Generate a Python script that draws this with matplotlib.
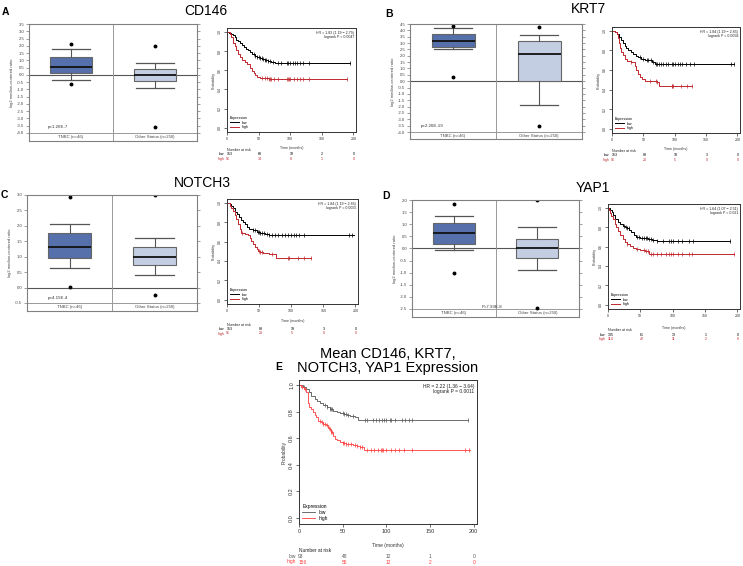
import numpy as np
import matplotlib
matplotlib.use("Agg")
import matplotlib.pyplot as plt
from matplotlib.lines import Line2D
from matplotlib.transforms import blended_transform_factory

plt.rcParams['font.family'] = ['Liberation Sans', 'DejaVu Sans']

W, H = 743, 566

# ---------- box plot data ----------
groups = ["TNBC (n=46)", "Other Status (n=250)"]

# [whisker low, q1, median, q3, whisker high]
cd146_tnbc = [-0.35, 0.15, 0.55, 1.25, 1.75]
cd146_other = [-0.88, -0.45, 0.0, 0.4, 0.8]
cd146_tnbc_out = [2.15, -0.65]
cd146_other_out = [2.0, -3.6]

krt7_tnbc = [2.55, 2.7, 3.15, 3.75, 4.15]
krt7_other = [-1.9, 0.0, 2.1, 3.15, 3.65]
krt7_tnbc_out = [4.35, 0.35]
krt7_other_out = [4.3, -3.5]

notch3_tnbc = [0.63, 0.95, 1.33, 1.77, 2.05]
notch3_other = [0.4, 0.73, 1.0, 1.32, 1.62]
notch3_tnbc_out = [2.93, 0.02]
notch3_other_out = [3.0, -0.23]

yap1_tnbc = [-0.08, 0.2, 0.62, 1.05, 1.33]
yap1_other = [-0.87, -0.4, 0.02, 0.38, 0.87]
yap1_tnbc_out = [1.85, -1.03]
yap1_other_out = [2.0, -2.45]

# ---------- survival data ----------
risk_times = [0, 50, 100, 150, 200]

cd146_low_t = [0, 3, 6, 9, 12, 15, 18, 21, 24, 27, 30, 33, 36, 40, 44, 48, 52, 56, 60, 65, 70, 76, 195]
cd146_low_s = [1.0, 0.99, 0.98, 0.97, 0.95, 0.92, 0.90, 0.88, 0.86, 0.84, 0.82, 0.81, 0.79, 0.77, 0.75,
               0.74, 0.73, 0.72, 0.71, 0.70, 0.69, 0.67, 0.67]
cd146_high_t = [0, 4, 7, 9, 10, 12, 15, 18, 20, 24, 28, 32, 36, 39, 42, 45, 48, 52, 58, 66, 189]
cd146_high_s = [1.0, 0.98, 0.95, 0.92, 0.88, 0.85, 0.81, 0.77, 0.74, 0.71, 0.69, 0.66, 0.62, 0.59, 0.57,
                0.55, 0.53, 0.52, 0.515, 0.51, 0.51]
cd146_low_cens = [42, 45, 48, 50, 52, 55, 57, 60, 62, 65, 68, 72, 80, 86, 95, 97, 100, 104, 107, 110,
                  115, 120, 130, 195]
cd146_high_cens = [56, 60, 63, 66, 68, 70, 74, 80, 95, 96, 98, 100, 106, 110, 115, 120, 130, 189]
cd146_risk_low = [153, 69, 18, 2, 0]
cd146_risk_high = [96, 34, 8, 1, 0]

krt7_low_t = [0, 5, 8, 11, 14, 17, 20, 23, 26, 30, 34, 38, 42, 47, 52, 58, 63, 68, 194]
krt7_low_s = [1.0, 0.99, 0.97, 0.94, 0.91, 0.88, 0.85, 0.82, 0.80, 0.78, 0.76, 0.745, 0.73, 0.715, 0.705,
              0.70, 0.685, 0.665, 0.665]
krt7_high_t = [0, 4, 8, 10, 11, 12, 13, 15, 18, 21, 24, 30, 34, 37, 39, 42, 45, 48, 52, 60, 71, 75, 128]
krt7_high_s = [1.0, 0.99, 0.97, 0.93, 0.88, 0.84, 0.82, 0.78, 0.75, 0.71, 0.69, 0.68, 0.68, 0.64, 0.60,
               0.56, 0.53, 0.51, 0.49, 0.485, 0.475, 0.44, 0.44]
krt7_low_cens = [45, 50, 55, 58, 62, 66, 70, 72, 75, 78, 82, 86, 90, 95, 98, 100, 105, 108, 112, 118,
                 125, 130, 190, 194]
krt7_high_cens = [30, 60, 70, 72, 95, 96, 98, 110, 120, 128]
krt7_risk_low = [153, 83, 19, 3, 0]
krt7_risk_high = [96, 20, 5, 0, 0]

notch3_low_t = [0, 4, 7, 10, 13, 16, 19, 22, 25, 28, 31, 35, 40, 46, 52, 59, 66, 197]
notch3_low_s = [1.0, 0.99, 0.97, 0.95, 0.91, 0.88, 0.85, 0.82, 0.80, 0.78, 0.75, 0.73, 0.715, 0.70, 0.69,
                0.68, 0.665, 0.665]
notch3_high_t = [0, 4, 7, 9, 12, 14, 17, 20, 22, 28, 33, 36, 38, 41, 43, 46, 48, 52, 56, 65, 72, 76, 131]
notch3_high_s = [1.0, 0.97, 0.95, 0.92, 0.87, 0.83, 0.78, 0.73, 0.69, 0.68, 0.67, 0.64, 0.61, 0.57, 0.54,
                 0.52, 0.50, 0.49, 0.48, 0.475, 0.47, 0.43, 0.43]
notch3_low_cens = [40, 44, 48, 50, 52, 55, 58, 62, 66, 70, 75, 80, 85, 90, 95, 100, 105, 108, 112, 120,
                   190, 195]
notch3_high_cens = [24, 50, 52, 55, 70, 95, 96, 110, 120, 131]
notch3_risk_low = [153, 83, 19, 3, 0]
notch3_risk_high = [96, 20, 5, 0, 0]

yap1_low_t = [0, 3, 6, 8, 11, 15, 19, 23, 26, 30, 33, 36, 40, 44, 50, 56, 62, 68, 75, 188]
yap1_low_s = [1.0, 0.98, 0.96, 0.93, 0.89, 0.85, 0.83, 0.81, 0.80, 0.79, 0.77, 0.75, 0.72, 0.70, 0.69,
              0.685, 0.68, 0.67, 0.655, 0.655]
yap1_high_t = [0, 1, 3, 5, 8, 11, 13, 16, 19, 23, 27, 30, 34, 38, 44, 50, 57, 64, 194]
yap1_high_s = [1.0, 0.98, 0.95, 0.92, 0.88, 0.83, 0.80, 0.76, 0.72, 0.68, 0.65, 0.63, 0.61, 0.59, 0.57,
               0.56, 0.55, 0.52, 0.52]
yap1_low_cens = [25, 28, 30, 32, 45, 48, 52, 55, 58, 60, 63, 66, 70, 75, 85, 95, 98, 100, 108, 115,
                 125, 132, 188]
yap1_high_cens = [30, 45, 55, 58, 62, 66, 70, 75, 82, 90, 95, 98, 100, 108, 115, 125, 130, 194]
yap1_risk_low = [135, 61, 13, 1, 0]
yap1_risk_high = [114, 42, 11, 2, 0]

mean_low_t = [0, 5, 8, 12, 14, 18, 21, 24, 28, 32, 35, 39, 43, 47, 51, 55, 58, 64, 68, 194]
mean_low_s = [1.0, 0.99, 0.975, 0.95, 0.92, 0.90, 0.88, 0.87, 0.85, 0.84, 0.82, 0.81, 0.80, 0.79, 0.785,
              0.78, 0.77, 0.76, 0.735, 0.735]
mean_high_t = [0, 2, 6, 8, 10, 12, 14, 16, 18, 20, 22, 25, 28, 31, 33, 35, 37, 39, 41, 44, 47, 50, 54,
               58, 62, 66, 70, 74, 196]
mean_high_s = [1.0, 0.99, 0.97, 0.95, 0.87, 0.84, 0.82, 0.80, 0.78, 0.76, 0.73, 0.72, 0.71, 0.70, 0.68,
               0.67, 0.645, 0.62, 0.595, 0.585, 0.575, 0.565, 0.56, 0.555, 0.55, 0.54, 0.535, 0.515, 0.515]
mean_low_cens = [6, 30, 32, 36, 37, 38, 50, 52, 54, 56, 62, 76, 78, 85, 88, 92, 95, 97, 100, 104, 106,
                 110, 118, 122, 126, 130, 194]
mean_high_cens = [4, 7, 24, 26, 28, 30, 32, 34, 36, 37, 38, 50, 52, 54, 56, 60, 64, 67, 70, 72, 78, 82,
                  86, 90, 94, 95, 96, 100, 105, 110, 115, 120, 130, 190, 195]
mean_risk_low = [93, 48, 12, 1, 0]
mean_risk_high = [156, 55, 12, 2, 0]

fig = plt.figure(figsize=(W / 100, H / 100), dpi=100)


def add_ax(left, right, top, bottom):
    return fig.add_axes([left / W, 1 - bottom / H, (right - left) / W, (bottom - top) / H])


def draw_box(left, right, top, ymin_px, strip_px, ymax, ymin, tnbc, other, tnbc_out, other_out,
             ptxt, px, py):
    ax = add_ax(left, right, top, strip_px)
    scale = (ymin_px - top) / (ymax - ymin)
    ylo = ymin - (strip_px - ymin_px) / scale
    ax.set_xlim(0, 2)
    ax.set_ylim(ylo, ymax)
    ax.axhline(0, color="#555555", lw=0.8, zorder=1)
    ax.axhline(ymin, color="#999999", lw=0.7, zorder=1)
    ax.axvline(1.0, color="#999999", lw=0.7, zorder=1)
    stats = []
    for s, f in ((tnbc, tnbc_out), (other, other_out)):
        stats.append(dict(whislo=s[0], q1=s[1], med=s[2], q3=s[3], whishi=s[4], fliers=f))
    bp = ax.bxp(stats, positions=[0.5, 1.5], widths=0.5, capwidths=0.45, patch_artist=True,
                manage_ticks=False,
                boxprops=dict(edgecolor="#666666", lw=0.8),
                whiskerprops=dict(color="#555555", lw=0.8),
                capprops=dict(color="#555555", lw=0.9),
                medianprops=dict(color="#111111", lw=1.3),
                flierprops=dict(marker="o", markersize=1.8, markerfacecolor="black",
                                markeredgecolor="black"))
    for patch, c in zip(bp["boxes"], ["#5570aa", "#c3cee3"]):
        patch.set_facecolor(c)
    ax.set_xticks([])
    ax.set_yticks(np.arange(ymin, ymax + 0.01, 0.5))
    ax.set_yticklabels(["%.1f" % v for v in np.arange(ymin, ymax + 0.01, 0.5)])
    ax.tick_params(axis="y", labelsize=3.1, length=2, width=0.5, color="#777777",
                   labelcolor="#444444", right=True, pad=1.5)
    for sp in ax.spines.values():
        sp.set_color("#808080")
        sp.set_linewidth(0.8)
    ax.set_ylabel("log2 median-centered ratio", fontsize=3, color="#444444", labelpad=2)
    ymid = (ylo + ymin) / 2
    ax.text(0.5, ymid, groups[0], ha="center", va="center", fontsize=3.1, color="#444444")
    ax.text(1.5, ymid, groups[1], ha="center", va="center", fontsize=3.1, color="#444444")
    ax.text(px, py, ptxt, ha="left", va="center", fontsize=3.2, color="#333333")
    return ax


def step_at(times, surv, cens):
    idx = np.searchsorted(times, cens, side="right") - 1
    return np.asarray(surv)[idx]


def draw_km(left, right, top, bottom, low_t, low_s, high_t, high_s, low_c, high_c,
            hr, pv, risk_low, risk_high, xlab_y, risk_y, colors, fs, tfs, lw):
    ax = add_ax(left, right, top, bottom)
    ax.set_xlim(0, 204)
    ax.set_ylim(-0.045, 1.04)
    for t, s, c, col in ((low_t, low_s, low_c, colors[0]), (high_t, high_s, high_c, colors[1])):
        ax.step(t, s, where="post", color=col, lw=lw)
        ax.plot(c, step_at(t, s, c), ls="none", marker="|", color=col, markersize=2.6,
                markeredgewidth=0.5)
    ax.set_xticks(risk_times)
    ax.set_yticks([0, 0.2, 0.4, 0.6, 0.8, 1.0])
    ax.set_yticklabels(["0.0", "0.2", "0.4", "0.6", "0.8", "1.0"], rotation=90, va="center")
    ax.tick_params(labelsize=tfs, length=2, width=0.5, pad=1.5, color="#333333",
                   labelcolor="#333333")
    for sp in ax.spines.values():
        sp.set_color("#333333")
        sp.set_linewidth(0.7)
    h = bottom - top
    ax.set_ylabel("Probability", fontsize=fs, color="#333333", labelpad=2)
    ax.set_xlabel("Time (months)", fontsize=fs, color="#333333")
    ax.xaxis.set_label_coords(0.5, (bottom - xlab_y) / h)
    ax.text(0.985, 0.975, hr + "\n" + pv, transform=ax.transAxes, ha="right", va="top",
            fontsize=fs, color="#222222", linespacing=1.2)
    handles = [Line2D([], [], color=colors[0], lw=lw), Line2D([], [], color=colors[1], lw=lw)]
    ax.legend(handles, ["low", "high"], title="Expression", loc="lower left",
              frameon=False, fontsize=fs, title_fontsize=fs, handlelength=2.5,
              borderaxespad=0.3, alignment="left", labelspacing=0.2)
    trans = blended_transform_factory(ax.transData, fig.transFigure)
    ax.text(0, 1 - risk_y[0] / H, "Number at risk", transform=trans, ha="left", va="center",
            fontsize=fs, color="#222222")
    for lab, row, y, col in (("low", risk_low, risk_y[1], colors[0]),
                             ("high", risk_high, risk_y[2], colors[1])):
        ax.text(-4, 1 - y / H, lab, transform=trans, ha="right", va="center", fontsize=fs,
                color=col)
        for x, n in zip(risk_times, row):
            ax.text(x - 1, 1 - y / H, str(n), transform=trans, ha="left", va="center",
                    fontsize=fs, color=col)
    return ax


dark = ["black", "#c0282d"]

# ---------- A: CD146 ----------
draw_box(29, 197, 24, 133, 141, 3.5, -4.0, cd146_tnbc, cd146_other, cd146_tnbc_out, cd146_other_out,
         "p=1.26E-7", 0.22, -3.6)
draw_km(227, 356, 28, 132, cd146_low_t, cd146_low_s, cd146_high_t, cd146_high_s,
        cd146_low_cens, cd146_high_cens, "HR = 1.82 (1.19 \u2212 2.79)", "logrank P = 0.0047",
        cd146_risk_low, cd146_risk_high, 146, (150, 154.5, 159), dark, 2.6, 2.6, 0.7)

# ---------- B: KRT7 ----------
draw_box(410, 582, 24, 132, 139, 4.5, -4.0, krt7_tnbc, krt7_other, krt7_tnbc_out, krt7_other_out,
         "p=2.26E-19", 0.12, -3.5)
draw_km(612, 740, 27, 133, krt7_low_t, krt7_low_s, krt7_high_t, krt7_high_s,
        krt7_low_cens, krt7_high_cens, "HR = 1.84 (1.19 \u2212 2.85)", "logrank P = 0.0058",
        krt7_risk_low, krt7_risk_high, 147, (151, 155.5, 160), dark, 2.6, 2.6, 0.7)

# ---------- C: NOTCH3 ----------
draw_box(27, 197, 195, 303, 311, 3.0, -0.5, notch3_tnbc, notch3_other, notch3_tnbc_out,
         notch3_other_out, "p=4.15E-4", 0.24, -0.35)
draw_km(227, 358, 199, 304, notch3_low_t, notch3_low_s, notch3_high_t, notch3_high_s,
        notch3_low_cens, notch3_high_cens, "HR = 1.84 (1.19 \u2212 2.85)", "logrank P = 0.0055",
        notch3_risk_low, notch3_risk_high, 319, (325, 329, 333.5), dark, 2.6, 2.6, 0.7)

# ---------- D: YAP1 ----------
draw_box(412, 579, 200, 309, 317, 2.0, -2.5, yap1_tnbc, yap1_other, yap1_tnbc_out, yap1_other_out,
         "P=7.93E-8", 0.84, -2.42)
draw_km(608, 740, 204, 309, yap1_low_t, yap1_low_s, yap1_high_t, yap1_high_s,
        yap1_low_cens, yap1_high_cens, "HR = 1.64 (1.07 \u2212 2.51)", "logrank P = 0.021",
        yap1_risk_low, yap1_risk_high, 326, (330, 335, 339), dark, 2.6, 2.6, 0.7)

# ---------- E: mean expression ----------
draw_km(299, 477, 380, 524, mean_low_t, mean_low_s, mean_high_t, mean_high_s,
        mean_low_cens, mean_high_cens, "HR = 2.22 (1.36 \u2212 3.64)", "logrank P = 0.0011",
        mean_risk_low, mean_risk_high, 543, (550, 556, 562), ["#555555", "#ff3b3b"], 3.5, 4.0, 0.6)

# ---------- titles and panel letters ----------
for txt, x, y in (("CD146", 206, 11), ("KRT7", 589, 9), ("NOTCH3", 202, 183), ("YAP1", 593, 188)):
    fig.text(x / W, 1 - y / H, txt, ha="center", va="center", fontsize=10)
fig.text(388 / W, 1 - 361 / H, "Mean CD146, KRT7,\nNOTCH3, YAP1 Expression", ha="center",
         va="center", fontsize=10.5, linespacing=1.0)
for lab, x, y in (("A", 2, 12), ("B", 385, 14), ("C", 1, 195), ("D", 382, 196), ("E", 275, 367)):
    fig.text(x / W, 1 - y / H, lab, ha="left", va="center", fontsize=7.5, fontweight="bold")

fig.savefig("out.png", dpi=100)
